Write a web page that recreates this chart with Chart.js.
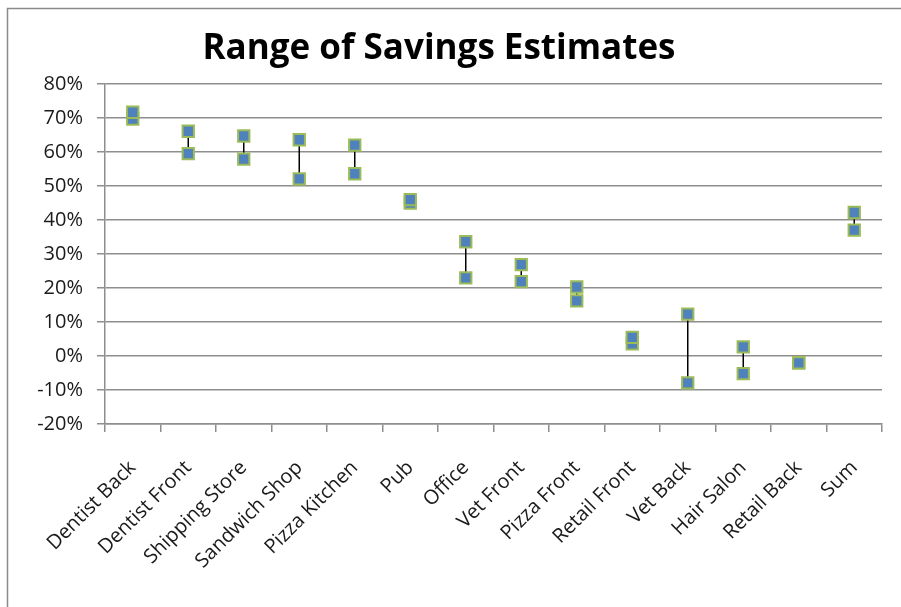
<!DOCTYPE html>
<html>
<head>
<meta charset="utf-8">
<script src="https://cdn.jsdelivr.net/npm/chart.js@4.4.1/dist/chart.umd.min.js"></script>
<style>
  html, body { margin: 0; padding: 0; background: #ffffff; }
  #wrap { width: 901px; height: 607px; position: relative; }
</style>
</head>
<body>
<div id="wrap"><canvas id="chart" width="901" height="607"></canvas></div>
<script>
// Site names along the x axis
const categories = ['Dentist Back', 'Dentist Front', 'Shipping Store', 'Sandwich Shop', 'Pizza Kitchen', 'Pub', 'Office', 'Vet Front', 'Pizza Front', 'Retail Front', 'Vet Back', 'Hair Salon', 'Retail Back', 'Sum'];
// Upper and lower savings estimate for each site, in percent
const highEstimate = [71.7, 66.1, 64.7, 63.6, 62.0, 46.0, 33.6, 26.9, 20.3, 5.5, 12.3, 2.7, -2.0, 42.2];
const lowEstimate  = [69.7, 59.5, 57.9, 52.1, 53.6, 45.0, 23.0, 21.9, 16.2, 3.6, -7.9, -5.2, -2.0, 37.0];
// Value axis tick marks, in percent
const yTicks = [80, 70, 60, 50, 40, 30, 20, 10, 0, -10, -20];

const chartTitle = 'Range of Savings Estimates';
const labelFont = "'Open Sans', 'DejaVu Sans', sans-serif";

const markerFill = '#4F81BD';
const markerEdge = '#9BBB59';
const gridGray = '#8e8e8e';

// Vertical high-low connector between the two estimates of each site
const hiLoLines = {
  id: 'hiLoLines',
  beforeDatasetsDraw(chart) {
    const x = chart.scales.x, y = chart.scales.y, ctx = chart.ctx;
    ctx.save();
    ctx.strokeStyle = '#000000';
    ctx.lineWidth = 1.5;
    categories.forEach((c, i) => {
      const px = x.getPixelForValue(i);
      ctx.beginPath();
      ctx.moveTo(px, y.getPixelForValue(highEstimate[i]));
      ctx.lineTo(px, y.getPixelForValue(lowEstimate[i]));
      ctx.stroke();
    });
    ctx.restore();
  }
};

// Title text and the frame edge of the chart
const frameAndTitle = {
  id: 'frameAndTitle',
  beforeDraw(chart) {
    const ctx = chart.ctx;
    ctx.save();
    ctx.fillStyle = '#ffffff';
    ctx.fillRect(0, 0, chart.width, chart.height);
    ctx.strokeStyle = '#8a8a8a';
    ctx.lineWidth = 1.5;
    ctx.beginPath();
    ctx.moveTo(7.5, chart.height);
    ctx.lineTo(7.5, 8.5);
    ctx.lineTo(chart.width, 8.5);
    ctx.stroke();
    ctx.restore();
  },
  afterDraw(chart) {
    const ctx = chart.ctx;
    ctx.save();
    ctx.fillStyle = '#000000';
    ctx.font = "bold 35px 'Open Sans', sans-serif";
    ctx.textAlign = 'center';
    ctx.textBaseline = 'alphabetic';
    ctx.fillText(chartTitle, 439, 59);
    ctx.restore();
  }
};

const pointStyleOpts = {
  showLine: false,
  pointStyle: 'rect',
  pointRadius: 8,
  pointHoverRadius: 8,
  pointBackgroundColor: markerFill,
  pointBorderColor: markerEdge,
  pointBorderWidth: 2,
  backgroundColor: markerFill,
  borderColor: markerEdge
};

new Chart(document.getElementById('chart'), {
  type: 'line',
  data: {
    labels: categories,
    datasets: [
      Object.assign({ label: 'High', data: highEstimate }, pointStyleOpts),
      Object.assign({ label: 'Low', data: lowEstimate }, pointStyleOpts)
    ]
  },
  plugins: [hiLoLines, frameAndTitle],
  options: {
    responsive: false,
    animation: false,
    events: [],
    layout: { padding: { left: 0, top: 84, right: 19, bottom: 0 } },
    plugins: {
      legend: { display: false },
      title: { display: false },
      tooltip: { enabled: false }
    },
    scales: {
      x: {
        type: 'category',
        offset: true,
        grid: {
          offset: true,
          drawOnChartArea: false,
          drawTicks: true,
          tickLength: 8,
          color: gridGray,
          lineWidth: 1.5
        },
        border: { color: gridGray, width: 1.5 },
        ticks: {
          color: '#1a1a1a',
          font: { family: labelFont, size: 20 },
          minRotation: 45,
          maxRotation: 45,
          autoSkip: false,
          padding: 24
        },
        afterFit(scale) { scale.height = 183; }
      },
      y: {
        min: -20,
        max: 80,
        afterBuildTicks(scale) { scale.ticks = yTicks.map(v => ({ value: v })); },
        grid: {
          color: gridGray,
          lineWidth: 1.5,
          drawTicks: true,
          tickLength: 8
        },
        border: { color: gridGray, width: 1.5 },
        ticks: {
          color: '#1a1a1a',
          font: { family: labelFont, size: 20 },
          padding: 14,
          callback: v => v + '%'
        },
        afterFit(scale) { scale.width = 105; }
      }
    }
  }
});
</script>
</body>
</html>
